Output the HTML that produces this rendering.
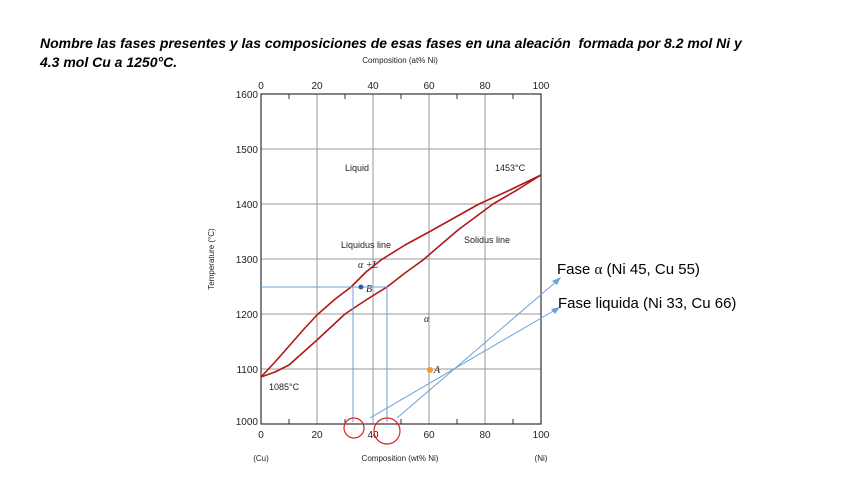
<!DOCTYPE html>
<html><head><meta charset="utf-8"><style>
body{margin:0;background:#fff;width:848px;height:477px;overflow:hidden;font-family:"Liberation Sans",sans-serif;}
.t{position:absolute;left:40px;top:34px;font-weight:bold;font-style:italic;font-size:14px;line-height:19px;color:#000;}
</style></head><body>
<div class="t">Nombre las fases presentes y las composiciones de esas fases en una aleación&nbsp; formada por 8.2 mol Ni y<br>4.3 mol Cu a 1250°C.</div>
<svg width="848" height="477" style="position:absolute;left:0;top:0" font-family="Liberation Sans, sans-serif">
<g stroke="#999" stroke-width="1">
<line x1="317" y1="94" x2="317" y2="424"/><line x1="373" y1="94" x2="373" y2="424"/><line x1="429" y1="94" x2="429" y2="424"/><line x1="485" y1="94" x2="485" y2="424"/>
<line x1="261" y1="149" x2="541" y2="149"/><line x1="261" y1="204" x2="541" y2="204"/><line x1="261" y1="259" x2="541" y2="259"/><line x1="261" y1="314" x2="541" y2="314"/><line x1="261" y1="369" x2="541" y2="369"/>
</g>
<rect x="261" y="94" width="280" height="330" fill="none" stroke="#333" stroke-width="1.2"/>
<g stroke="#333" stroke-width="1">
<line x1="289" y1="94" x2="289" y2="99"/><line x1="345" y1="94" x2="345" y2="99"/><line x1="401" y1="94" x2="401" y2="99"/><line x1="457" y1="94" x2="457" y2="99"/><line x1="513" y1="94" x2="513" y2="99"/>
<line x1="289" y1="424" x2="289" y2="419"/><line x1="345" y1="424" x2="345" y2="419"/><line x1="401" y1="424" x2="401" y2="419"/><line x1="457" y1="424" x2="457" y2="419"/><line x1="513" y1="424" x2="513" y2="419"/>
</g>
<g font-size="10" fill="#222" text-anchor="middle">
<text x="261" y="89">0</text><text x="317" y="89">20</text><text x="373" y="89">40</text><text x="429" y="89">60</text><text x="485" y="89">80</text><text x="541" y="89">100</text>
<text x="261" y="438">0</text><text x="317" y="438">20</text><text x="373" y="438">40</text><text x="429" y="438">60</text><text x="485" y="438">80</text><text x="541" y="438">100</text>
<text x="400" y="63" font-size="8">Composition (at% Ni)</text>
<text x="400" y="461" font-size="8">Composition (wt% Ni)</text>
<text x="261" y="461" font-size="8">(Cu)</text><text x="541" y="461" font-size="8">(Ni)</text>
</g>
<g font-size="10" fill="#222" text-anchor="end">
<text x="258" y="98">1600</text><text x="258" y="153">1500</text><text x="258" y="208">1400</text><text x="258" y="263">1300</text><text x="258" y="318">1200</text><text x="258" y="373">1100</text><text x="258" y="425">1000</text>
</g>
<text transform="translate(214,259) rotate(-90)" font-size="8" text-anchor="middle" fill="#222">Temperature (°C)</text>
<g font-size="9" fill="#222">
<text x="345" y="171">Liquid</text><text x="495" y="171">1453°C</text>
<text x="341" y="248">Liquidus line</text><text x="464" y="243">Solidus line</text>
<text x="269" y="390">1085°C</text>
</g>
<g font-family="Liberation Serif, serif" font-style="italic" font-size="10" fill="#222">
<text x="358" y="268">α +L</text><text x="424" y="322">α</text><text x="366" y="292">B</text><text x="434" y="373">A</text>
</g>
<g fill="none" stroke="#b01818" stroke-width="1.6" stroke-linejoin="round">
<polyline points="261,377 275,362 290,345 304,329 317,315 334,300 351,287 366,272 381,260 405,245 429,232 454,218 479,204 510,190 541,175"/>
<polyline points="261,377 275,372 289,365 317,340 345,314 366,300 387,287 405,273 423,260 458,230 493,204 517,190 541,175"/>
</g>
<g stroke="#6aa0dc" stroke-width="1" fill="none">
<line x1="261" y1="287" x2="387" y2="287"/>
<line x1="353" y1="287" x2="353" y2="422"/>
<line x1="387" y1="287" x2="387" y2="422"/>
<line x1="370" y1="418" x2="555" y2="310"/>
<line x1="397" y1="418" x2="557" y2="281"/>
</g>
<path d="M560,307 L551,309 L555,314Z" fill="#6aa0dc"/>
<path d="M561,277 L552,281 L557,285Z" fill="#6aa0dc"/>
<circle cx="361" cy="287" r="2.5" fill="#2c5fa0"/>
<circle cx="430" cy="370" r="3" fill="#f39a2a"/>
<circle cx="354" cy="428" r="10" fill="none" stroke="#e02020" stroke-width="1.2"/>
<circle cx="387" cy="431" r="13" fill="none" stroke="#e02020" stroke-width="1.2"/>
<g font-size="15" fill="#000">
<text x="557" y="274">Fase <tspan font-family="Liberation Serif, serif">α</tspan> (Ni 45, Cu 55)</text>
<text x="558" y="308">Fase liquida (Ni 33, Cu 66)</text>
</g>
</svg>
</body></html>
